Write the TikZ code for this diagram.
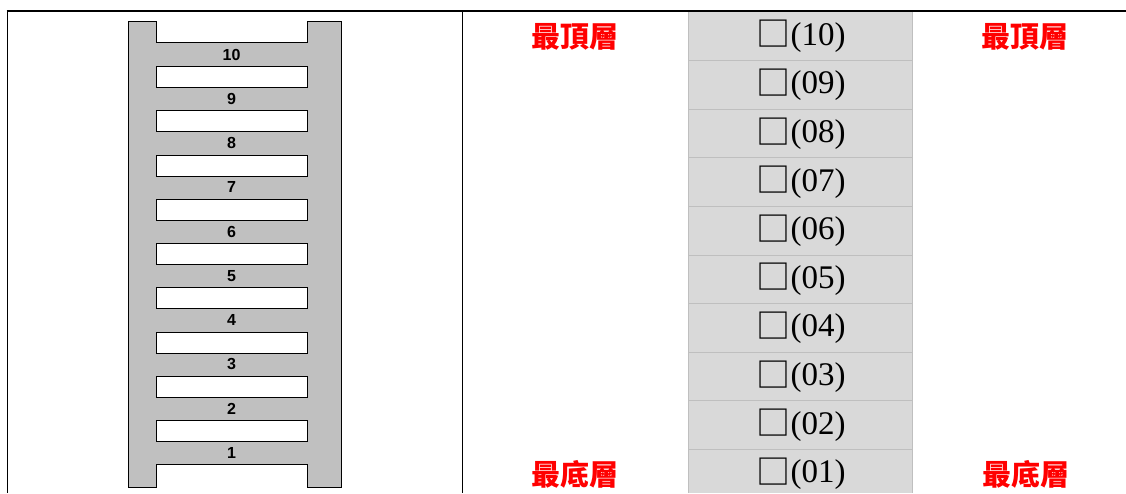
\documentclass[tikz,border=0pt]{standalone}
\usepackage{fontspec}
\setmainfont{Liberation Serif}
\newfontfamily\cjk{Noto Sans CJK TC}
\newfontfamily\numfont{Liberation Sans}
\definecolor{colgrey}{HTML}{D9D9D9}
\definecolor{sepgrey}{HTML}{BFBFBF}
\definecolor{ladgrey}{HTML}{C0C0C0}
\definecolor{lblred}{HTML}{FF0000}
\newcommand{\boxchar}{\raisebox{-1.5pt}{\cjk\fontsize{34}{34}\selectfont □}}
\tikzset{
  sepline/.style={draw=sepgrey, line width=1pt},
  rule/.style={draw=black, line width=1pt},
  slot/.style={draw=black, fill=white, line width=1pt, minimum width=151pt, minimum height=21pt, inner sep=0pt, anchor=north west},
  numlab/.style={font=\numfont\bfseries\fontsize{16}{16}\selectfont, inner sep=0pt},
  cell/.style={font=\fontsize{33}{33}\selectfont, inner sep=0pt},
  redlab/.style={font=\cjk\bfseries\fontsize{29}{29}\selectfont, text=lblred, inner sep=0pt},
}
\begin{document}
\begin{tikzpicture}[x=1pt,y=-1pt]
\useasboundingbox (0,0) rectangle (1126,493);
% grey column
\fill[colgrey] (688,12) rectangle (912,493);
\foreach \k in {1,...,9}{
  \draw[sepline] (688,{12+48.6*\k}) -- (912,{12+48.6*\k});
}
\draw[sepline] (688,12) -- (688,493);
\draw[sepline] (912,12) -- (912,493);
% table rules
\draw[draw=black, line width=2.2pt] (6.5,11) -- (1126,11);
\draw[rule] (7,11) -- (7,493);
\draw[rule] (462,11) -- (462,493);
% ladder
\filldraw[fill=ladgrey, draw=black, line width=1pt]
  (128,21) -- (156,21) -- (156,42) -- (307,42) -- (307,21) -- (341,21)
  -- (341,487) -- (307,487) -- (307,464) -- (156,464) -- (156,487) -- (128,487) -- cycle;
\draw[draw=white, line width=1.2pt] (156.5,21) -- (306.5,21);
\draw[draw=white, line width=1.2pt] (156.5,487) -- (306.5,487);
\foreach \k in {0,...,8}{
  \node[slot] (s\k) at (156,{66+44.25*\k}) {};
}
\foreach \n [count=\k from 0] in {10,9,8,7,6,5,4,3,2,1}{
  \node[numlab] (n\n) at (231.5,{66+44.25*\k-11.5}) {\n};
}
% cells
\foreach \n [count=\k from 0] in {10,09,08,07,06,05,04,03,02,01}{
  \node[cell] (c\n) at (801,{12+48.6*(\k+0.5)}) {\boxchar(\n)};
}
% red labels
\node[redlab] (topL) at (575,37) {最頂層};
\node[redlab] (botL) at (575,474) {最底層};
\node[redlab] (topR) at (1025,37) {最頂層};
\node[redlab] (botR) at (1026,474) {最底層};
\end{tikzpicture}
\end{document}
